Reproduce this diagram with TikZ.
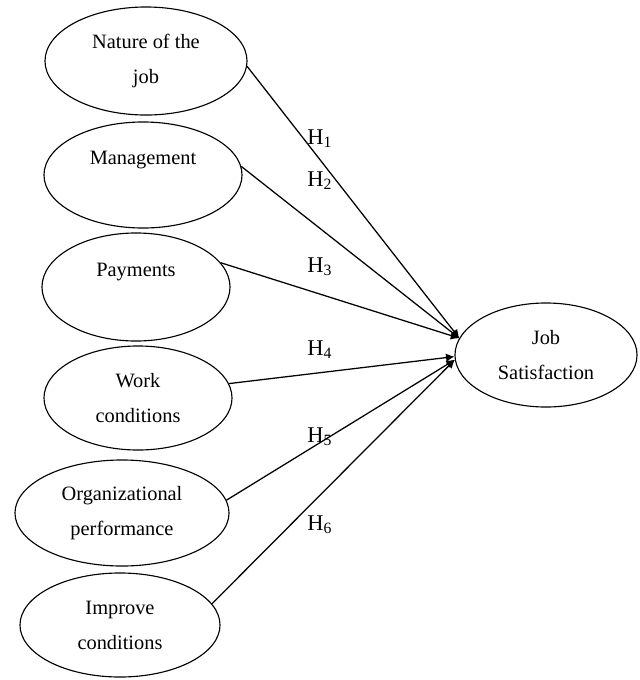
\documentclass[tikz,border=0pt]{standalone}
\usepackage{fontspec}
\setmainfont{Liberation Serif}
\usepackage{tikz}
\usetikzlibrary{positioning,arrows.meta,shapes.geometric}
\tikzset{
 var/.style={ellipse, draw=black, fill=white, line width=0.8pt, inner sep=0pt,
 align=center, font=\fontsize{14.5}{25}\selectfont},
 hyp/.style={anchor=base west, inner sep=0pt, font=\fontsize{16}{18}\selectfont},
 fl/.style={-{Latex[length=6pt,width=6pt]}, draw=black, line width=0.9pt},
}

\begin{document}
\begin{tikzpicture}[x=0.025cm, y=-0.025cm]
 \useasboundingbox (0,0) rectangle (640,680);
 % predictors
 \node[var, minimum width=5.05cm, minimum height=2.7cm] (nat) at (146,61) {Nature of the\\job};
 \node[var, minimum width=4.95cm, minimum height=2.65cm] (mgt) at (143,175) {Management\\~};
 \node[var, minimum width=4.7cm, minimum height=2.7cm] (pay) at (136,287) {Payments\\~};
 \node[var, minimum width=4.7cm, minimum height=2.6cm] (work) at (138,398) {Work\\conditions};
 \node[var, minimum width=5.35cm, minimum height=2.65cm] (org) at (122,513) {Organizational\\performance};
 \node[var, minimum width=5.0cm, minimum height=2.6cm] (imp) at (120,625) {Improve\\conditions};
 % outcome
 \node[var, minimum width=4.55cm, minimum height=2.6cm] (job) at (546,355) {Job\\Satisfaction};

 \draw[fl] (nat.-3) -- (job.169);
 \draw[fl] (mgt.5) -- (job.169);
 \draw[fl] (pay.16) -- (job.169);
 \draw[fl] (work.9) -- (job.181);
 \draw[fl] (org.7) -- (job.183);
 \draw[fl] (imp.13) -- (job.183);

 \node[hyp] (h1) at (307,144) {H\textsubscript{1}};
 \node[hyp] (h2) at (307,186) {H\textsubscript{2}};
 \node[hyp] (h3) at (307,272) {H\textsubscript{3}};
 \node[hyp] (h4) at (307,355) {H\textsubscript{4}};
 \node[hyp] (h5) at (307,442) {H\textsubscript{5}};
 \node[hyp] (h6) at (307,530) {H\textsubscript{6}};
\end{tikzpicture}
\end{document}
